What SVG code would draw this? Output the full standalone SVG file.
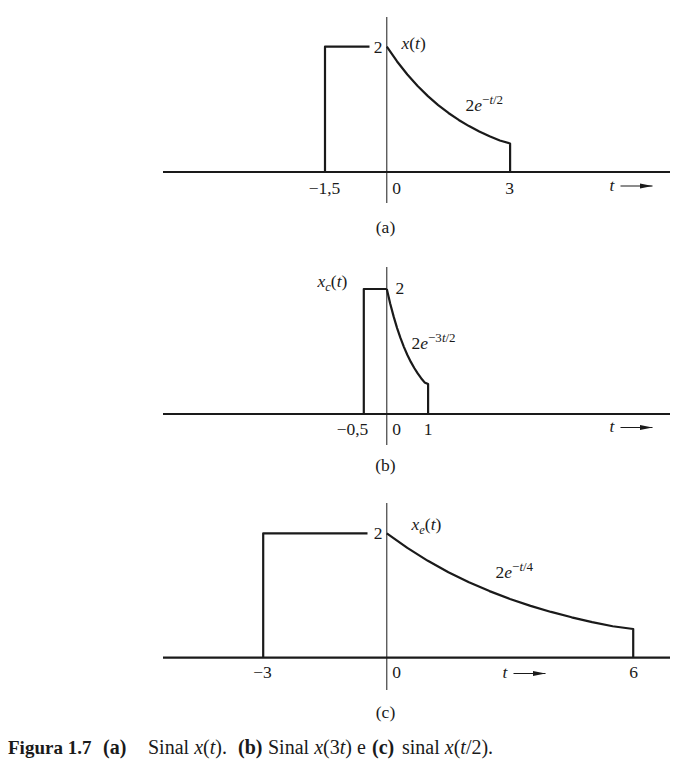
<svg xmlns="http://www.w3.org/2000/svg" width="696" height="768" viewBox="0 0 696 768">
<style>
  .sig { fill: none; stroke: #1a1a1a; stroke-width: 2.2; stroke-linejoin: round; stroke-linecap: butt; }
  .ax { fill: none; stroke: #1a1a1a; stroke-width: 1; }
  .arr { fill: none; stroke: #1a1a1a; stroke-width: 1.2; marker-end: url(#ah); }
  text { font-family: "Liberation Serif", "Times New Roman", serif; font-size: 17.5px; fill: #1a1a1a; }
  .it { font-style: italic; }
  .sup { font-size: 13px; }
  .sub { font-size: 12.5px; }
  .mid { text-anchor: middle; }
  .cap { font-size: 20px; }
  .b { font-weight: bold; }
</style>
<defs>
  <marker id="ah" markerUnits="userSpaceOnUse" markerWidth="14" markerHeight="7" refX="13" refY="3.5" orient="auto">
    <path d="M0,0.8 L13,3.5 L0,6.2 z" fill="#1a1a1a"/>
  </marker>
</defs>

<g id="panel-a" transform="translate(1.5,0)">
  <line class="ax" x1="385.3" y1="17" x2="385.3" y2="203"/>
  <line class="sig" x1="161.5" y1="172" x2="668.5" y2="172"/>
  <polyline class="sig" points="323.5,172 323.5,46.7 368,46.7"/>
  <polyline class="sig" points="385.3,46.7 395.58,61.46 405.85,74.48 416.13,85.97 426.4,96.12 436.68,105.07 446.95,112.97 457.23,119.94 467.5,126.09 477.78,131.52 488.05,136.32 498.33,140.55 508.6,143.5 508.6,172"/>
  <text x="381" y="52.5" text-anchor="end">2</text>
  <text x="400" y="48.5"><tspan class="it">x</tspan>(<tspan class="it">t</tspan>)</text>
  <text x="464" y="111">2<tspan class="it">e</tspan><tspan class="sup" dy="-7.5">−<tspan class="it">t</tspan>/2</tspan></text>
  <text class="mid" x="323" y="194">−1,5</text>
  <text class="mid" x="395" y="194">0</text>
  <text class="mid" x="508" y="194">3</text>
  <text class="it" x="608" y="191">t</text>
  <line class="arr" x1="619" y1="186" x2="651" y2="186"/>
  <text class="mid" x="384" y="233">(a)</text>
</g>

<g id="panel-b" transform="translate(1.5,0)">
  <line class="ax" x1="385.3" y1="267" x2="385.3" y2="445"/>
  <line class="sig" x1="161.5" y1="414" x2="668.5" y2="414"/>
  <polyline class="sig" points="362.3,414 362.3,289 385.3,289"/>
  <polyline class="sig" points="385.3,289 388.73,303.69 392.17,316.65 395.6,328.09 399.03,338.19 402.47,347.09 405.9,354.95 409.33,361.89 412.77,368.01 416.2,373.41 419.63,378.19 423.07,382.4 426.6,384 426.6,414"/>
  <text x="316" y="287"><tspan class="it">x</tspan><tspan class="sub it" dy="3.5">c</tspan><tspan dy="-3.5">(</tspan><tspan class="it">t</tspan>)</text>
  <text x="394" y="294">2</text>
  <text x="410" y="349">2<tspan class="it">e</tspan><tspan class="sup" dy="-7.5">−3<tspan class="it">t</tspan>/2</tspan></text>
  <text class="mid" x="351" y="435">−0,5</text>
  <text class="mid" x="395" y="435">0</text>
  <text class="mid" x="426.5" y="435">1</text>
  <text class="it" x="608" y="432">t</text>
  <line class="arr" x1="619" y1="427.5" x2="651" y2="427.5"/>
  <text class="mid" x="384" y="471">(b)</text>
</g>

<g id="panel-c" transform="translate(1.5,0)">
  <line class="ax" x1="385.3" y1="503" x2="385.3" y2="690"/>
  <line class="sig" x1="161.5" y1="657.7" x2="668.5" y2="657.7"/>
  <polyline class="sig" points="261.7,657.7 261.7,533.3 366,533.3"/>
  <polyline class="sig" points="385.3,533.3 405.84,547.92 426.37,560.82 446.91,572.2 467.44,582.25 487.98,591.11 508.51,598.93 529.05,605.84 549.58,611.93 570.12,617.31 590.65,622.06 611.19,626.25 631.72,629 631.72,657.7"/>
  <text x="381" y="539" text-anchor="end">2</text>
  <text x="410" y="530"><tspan class="it">x</tspan><tspan class="sub it" dy="3.5">e</tspan><tspan dy="-3.5">(</tspan><tspan class="it">t</tspan>)</text>
  <text x="494" y="578">2<tspan class="it">e</tspan><tspan class="sup" dy="-7.5">−<tspan class="it">t</tspan>/4</tspan></text>
  <text class="mid" x="261" y="678">−3</text>
  <text class="mid" x="395" y="678">0</text>
  <text class="mid" x="632" y="678">6</text>
  <text class="it" x="501" y="678">t</text>
  <line class="arr" x1="512" y1="673.5" x2="544" y2="673.5"/>
  <text class="mid" x="384" y="718">(c)</text>
</g>

<g id="caption">
  <text class="cap" y="754"><tspan class="b" x="8" font-size="19">Figura 1.7</tspan><tspan class="b" x="103">(a)</tspan><tspan x="148">Sinal </tspan><tspan class="it">x</tspan>(<tspan class="it">t</tspan>).<tspan class="b" x="238">(b)</tspan><tspan x="268">Sinal </tspan><tspan class="it">x</tspan>(3<tspan class="it">t</tspan>) e<tspan class="b" x="372">(c)</tspan><tspan x="402">sinal </tspan><tspan class="it">x</tspan>(<tspan class="it">t</tspan>/2).</text>
</g>
</svg>
